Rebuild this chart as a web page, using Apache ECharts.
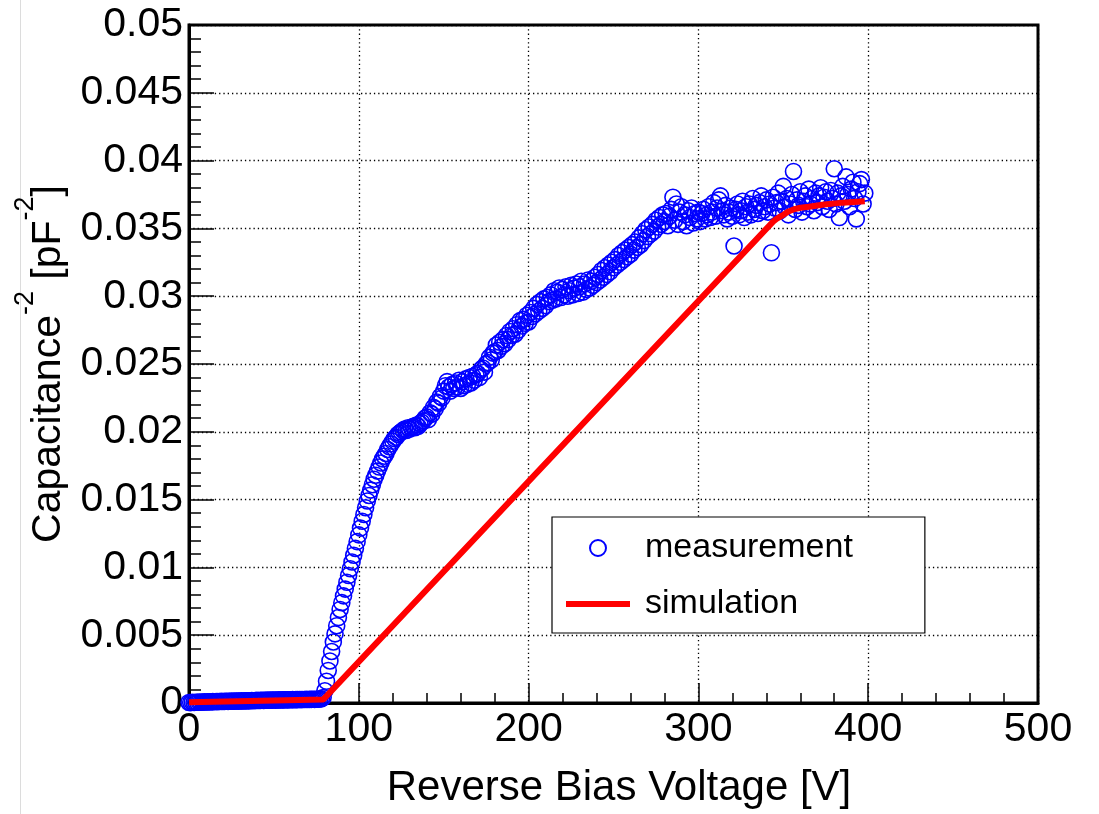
<!DOCTYPE html>
<html><head><meta charset="utf-8">
<script src="https://cdn.jsdelivr.net/npm/echarts@6/dist/echarts.min.js"></script>
<style>html,body{margin:0;padding:0;background:#fff}#c{width:1099px;height:814px}</style>
</head><body><div id="c"></div><script>
// ---------- data ----------
const xTicks = [0, 100, 200, 300, 400, 500];
const yMin = 0, yMax = 0.05, yStep = 0.005;

// measurement sweep: one point per volt starting at 0 V
const measStartV = 0, measStepV = 1;
const measured = [
 0.00004,0.00003,0.00005,0.00004,0.00006,0.00005,0.00007,0.00006,0.00007,0.00008,
 0.00007,0.00009,0.00008,0.00009,0.00010,0.00009,0.00011,0.00010,0.00011,0.00012,
 0.00011,0.00012,0.00013,0.00012,0.00013,0.00014,0.00013,0.00014,0.00015,0.00014,
 0.00015,0.00016,0.00015,0.00016,0.00017,0.00016,0.00017,0.00018,0.00017,0.00018,
 0.00019,0.00018,0.00019,0.00020,0.00019,0.00020,0.00021,0.00020,0.00021,0.00021,
 0.00022,0.00021,0.00022,0.00023,0.00022,0.00023,0.00023,0.00024,0.00023,0.00024,
 0.00024,0.00025,0.00024,0.00025,0.00025,0.00026,0.00025,0.00026,0.00026,0.00027,
 0.00026,0.00027,0.00027,0.00028,0.00027,0.00028,0.00028,0.00029,0.00031,0.00040,
 0.0009,0.0016,0.0024,0.0031,0.0038,0.0045,0.0051,0.0057,0.0063,0.0069,
 0.0074,0.0079,0.0084,0.0089,0.0094,0.0099,0.0104,0.0109,0.0114,0.0119,
 0.0124,0.0129,0.0134,0.0139,0.0144,0.0149,0.0153,0.0157,0.0161,0.0165,
 0.0168,0.0171,0.0174,0.0177,0.0180,0.0182,0.0184,0.0187,0.0189,0.0191,
 0.0193,0.0195,0.0196,0.0198,0.0199,0.0200,0.0201,0.0202,0.0201,0.0203,
 0.0202,0.0203,0.0204,0.0203,0.0205,0.0204,0.0206,0.0207,0.0208,0.0210,
 0.0211,0.0209,0.0214,0.0213,0.0218,0.0217,0.0222,0.0221,0.0226,0.0225,
 0.0230,0.0234,0.0237,0.0233,0.0230,0.0235,0.0232,0.0236,0.0233,0.0238,
 0.0232,0.0237,0.0234,0.0239,0.0235,0.0240,0.0236,0.0241,0.0238,0.0242,
 0.0243,0.0240,0.0246,0.0247,0.0244,0.0250,0.0251,0.0255,0.0253,0.0258,
 0.0259,0.0264,0.0260,0.0266,0.0263,0.0268,0.0265,0.0271,0.0268,0.0274,
 0.0271,0.0276,0.0272,0.0279,0.0275,0.0282,0.0278,0.0283,0.0280,0.0286,
 0.0281,0.0288,0.0285,0.0291,0.0287,0.0294,0.0289,0.0296,0.0291,0.0298,
 0.0293,0.0299,0.0296,0.0301,0.0297,0.0304,0.0298,0.0303,0.0306,0.0299,
 0.0305,0.0301,0.0307,0.0300,0.0304,0.0308,0.0301,0.0306,0.0309,0.0302,
 0.0307,0.0311,0.0303,0.0309,0.0305,0.0312,0.0306,0.0311,0.0308,0.0314,
 0.0310,0.0316,0.0312,0.0319,0.0314,0.0321,0.0316,0.0323,0.0318,0.0325,
 0.0321,0.0327,0.0323,0.0330,0.0325,0.0332,0.0327,0.0334,0.0329,0.0336,
 0.0331,0.0338,0.0334,0.0340,0.0336,0.0343,0.0338,0.0346,0.0341,0.0349,
 0.0344,0.0351,0.0346,0.0353,0.0348,0.0356,0.0351,0.0358,0.0353,0.0360,
 0.0355,0.0361,0.0352,0.0359,0.0364,0.0373,0.0356,0.0368,0.0353,0.0362,
 0.0366,0.0355,0.0360,0.0352,0.0363,0.0358,0.0365,0.0354,0.0361,0.0357,
 0.0362,0.0355,0.0361,0.0364,0.0357,0.0360,0.0366,0.0358,0.0362,0.0369,
 0.0359,0.0365,0.0371,0.0374,0.0363,0.0360,0.0367,0.0357,0.0362,0.0365,
 0.0359,0.0337,0.0364,0.0368,0.0360,0.0363,0.0370,0.0358,0.0366,0.0362,
 0.0368,0.0360,0.0372,0.0364,0.0367,0.0361,0.0369,0.0374,0.0363,0.0366,
 0.0371,0.0362,0.0368,0.0332,0.0373,0.0365,0.0369,0.0376,0.0363,0.0370,
 0.0381,0.0366,0.0372,0.0360,0.0368,0.0375,0.0392,0.0364,0.0371,0.0367,
 0.0377,0.0362,0.0370,0.0374,0.0366,0.0379,0.0368,0.0372,0.0363,0.0376,
 0.0369,0.0374,0.0380,0.0366,0.0373,0.0377,0.0370,0.0364,0.0378,0.0372,
 0.0394,0.0368,0.0376,0.0358,0.0374,0.0381,0.0370,0.0388,0.0375,0.0366,
 0.0379,0.0384,0.0372,0.0357,0.0377,0.0383,0.0386,0.0368,0.0376
];

const simVoltage = [0, 79, 344, 346, 348, 350, 353, 356, 360, 365, 374, 385, 398];
const simValue   = [0.00005, 0.00025, 0.0355, 0.0357, 0.03585, 0.0360, 0.03625, 0.0364, 0.03652, 0.0366, 0.03676, 0.0369, 0.0370];

const seriesNames = ['measurement', 'simulation'];
const xTitle = 'Reverse Bias Voltage [V]';

// ---------- chart ----------
const FONT = '"Liberation Sans", Arial, Helvetica, sans-serif';
const measData = measured.map((v, i) => [measStartV + i * measStepV, v]);
const simData = simVoltage.map((v, i) => [v, simValue[i]]);

const chart = echarts.init(document.getElementById('c'), null, {renderer: 'canvas'});
chart.setOption({
  animation: false,
  backgroundColor: '#fff',
  textStyle: {fontFamily: FONT},
  grid: {left: 189, right: 61, top: 25, bottom: 109, show: true, borderColor: '#000', borderWidth: 3, backgroundColor: 'transparent'},
  xAxis: {
    type: 'value', min: xTicks[0], max: xTicks[xTicks.length - 1], interval: xTicks[1] - xTicks[0],
    name: xTitle, nameLocation: 'middle', nameGap: 64,
    nameTextStyle: {fontSize: 42, color: '#000', fontFamily: FONT, padding: [0, 0, 0, 11]},
    axisLine: {show: true, onZero: false, lineStyle: {color: '#000', width: 3}},
    axisTick: {show: true, inside: true, length: 20, lineStyle: {color: '#000', width: 1.5}},
    minorTick: {show: true, splitNumber: 5, length: 10, lineStyle: {color: '#000', width: 1.5}},
    axisLabel: {fontSize: 41, color: '#000', margin: 6, fontFamily: FONT},
    splitLine: {show: true, lineStyle: {color: '#000', width: 1.3, type: [1.3, 3]}}
  },
  yAxis: {
    type: 'value', min: yMin, max: yMax, interval: yStep,
    name: '{m|Capacitance}{s|-2}{m| [pF}{s|-2}{m|]}', nameLocation: 'middle', nameGap: 115,
    nameTextStyle: {
      color: '#000', fontFamily: FONT,
      rich: {
        m: {fontSize: 41, lineHeight: 57, verticalAlign: 'bottom', fontFamily: FONT, color: '#000'},
        s: {fontSize: 27, verticalAlign: 'top', fontFamily: FONT, color: '#000'}
      }
    },
    axisLine: {show: true, onZero: false, lineStyle: {color: '#000', width: 3}},
    axisTick: {show: true, inside: true, length: 25, lineStyle: {color: '#000', width: 1.5}},
    minorTick: {show: true, splitNumber: 5, length: 12, lineStyle: {color: '#000', width: 1.5}},
    axisLabel: {fontSize: 41, color: '#000', margin: 6, fontFamily: FONT,
      formatter: v => String(Math.round(v * 1000) / 1000)},
    splitLine: {show: true, lineStyle: {color: '#000', width: 1.3, type: [1.3, 3]}}
  },
  legend: {
    left: 552, top: 517, orient: 'vertical', padding: [12, 72, 10, 14], itemGap: 18,
    itemWidth: 64, itemHeight: 16,
    backgroundColor: '#fff', borderColor: '#000', borderWidth: 1.2,
    textStyle: {fontSize: 34, color: '#000', fontFamily: FONT, padding: [0, 0, 0, 10], lineHeight: 38},
    data: [
      {name: seriesNames[0], icon: 'circle', itemStyle: {color: 'rgba(0,0,0,0)', borderColor: '#0000ff', borderWidth: 2}},
      {name: seriesNames[1], icon: 'path://M0,0L64,0L64,6L0,6Z', itemStyle: {color: '#ff0000'}}
    ]
  },
  graphic: [{type: 'line', shape: {x1: 20.5, y1: 0, x2: 20.5, y2: 814}, style: {stroke: '#dcdcdc', lineWidth: 1}, silent: true}],
  series: [
    {name: seriesNames[0], type: 'scatter', data: measData, symbol: 'circle', symbolSize: 16, clip: false,
     itemStyle: {color: 'rgba(0,0,0,0)', borderColor: '#0000ff', borderWidth: 1.6, opacity: 1},
     emphasis: {disabled: true}, z: 2},
    {name: seriesNames[1], type: 'line', data: simData, symbol: 'none', smooth: false, clip: false,
     lineStyle: {color: '#ff0000', width: 6}, itemStyle: {color: '#ff0000'},
     emphasis: {disabled: true}, z: 3}
  ]
});
</script></body></html>
